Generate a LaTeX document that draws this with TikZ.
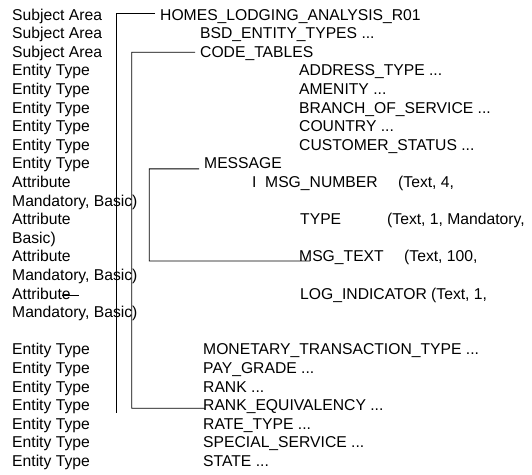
\documentclass[tikz,border=0pt]{standalone}
\usepackage{fontspec}
\setmainfont{Liberation Sans}
\begin{document}
\begin{tikzpicture}[x=1bp,y=-1bp,
  txt/.style={anchor=base west, inner sep=0pt, font=\fontsize{15.75}{18}\selectfont},
  conn/.style={line width=0.8bp, black}]
\useasboundingbox (0,0) rectangle (532,475);
% left column
\node[txt] (k0) at (12,20.1) {Subject Area};
\node[txt] (k1) at (12,38.7) {Subject Area};
\node[txt] (k2) at (12,57.3) {Subject Area};
\node[txt] (k3) at (12,75.9) {Entity Type};
\node[txt] (k4) at (12,94.5) {Entity Type};
\node[txt] (k5) at (12,113.1) {Entity Type};
\node[txt] (k6) at (12,131.7) {Entity Type};
\node[txt] (k7) at (12,150.3) {Entity Type};
\node[txt] (k8) at (12,168.9) {Entity Type};
\node[txt] (k9) at (12,187.5) {Attribute};
\node[txt] (k10) at (12,206.1) {Mandatory, Basic)};
\node[txt] (k11) at (12,224.7) {Attribute};
\node[txt] (k12) at (12,243.3) {Basic)};
\node[txt] (k13) at (12,261.9) {Attribute};
\node[txt] (k14) at (12,280.5) {Mandatory, Basic)};
\node[txt] (k15) at (12,299.1) {Attribute};
\node[txt] (k16) at (12,317.7) {Mandatory, Basic)};
\node[txt] (k18) at (12,354.9) {Entity Type};
\node[txt] (k19) at (12,373.5) {Entity Type};
\node[txt] (k20) at (12,392.1) {Entity Type};
\node[txt] (k21) at (12,410.7) {Entity Type};
\node[txt] (k22) at (12,429.3) {Entity Type};
\node[txt] (k23) at (12,447.9) {Entity Type};
\node[txt] (k24) at (12,466.5) {Entity Type};
% tree column
\node[txt] (homes) at (160,20.1) {HOMES\_LODGING\_ANALYSIS\_R01};
\node[txt] (bsd) at (200,38.7) {BSD\_ENTITY\_TYPES ...};
\node[txt] (code) at (200,57.3) {CODE\_TABLES};
\node[txt] (addr) at (299,75.9) {ADDRESS\_TYPE ...};
\node[txt] (amen) at (299,94.5) {AMENITY ...};
\node[txt] (branch) at (299,113.1) {BRANCH\_OF\_SERVICE ...};
\node[txt] (country) at (299,131.7) {COUNTRY ...};
\node[txt] (cust) at (299,150.3) {CUSTOMER\_STATUS ...};
\node[txt] (message) at (204,168.9) {MESSAGE};
\node[txt] (ibar) at (252,187.5) {I};
\node[txt] (msgnum) at (265,187.5) {MSG\_NUMBER};
\node[txt] (msgnumd) at (398,187.5) {(Text, 4,};
\node[txt] (type) at (300,224.7) {TYPE};
\node[txt] (typed) at (387,224.7) {(Text, 1, Mandatory,};
\node[txt] (msgtext) at (299,261.9) {MSG\_TEXT};
\node[txt] (msgtextd) at (404,261.9) {(Text, 100,};
\node[txt] (logind) at (300,299.1) {LOG\_INDICATOR};
\node[txt] (logindd) at (431,299.1) {(Text, 1,};
\node[txt] (monet) at (203,354.9) {MONETARY\_TRANSACTION\_TYPE ...};
\node[txt] (pay) at (203,373.5) {PAY\_GRADE ...};
\node[txt] (rank) at (203,392.1) {RANK ...};
\node[txt] (rankeq) at (203,410.7) {RANK\_EQUIVALENCY ...};
\node[txt] (rate) at (203,429.3) {RATE\_TYPE ...};
\node[txt] (special) at (203,447.9) {SPECIAL\_SERVICE ...};
\node[txt] (state) at (203,466.5) {STATE ...};
% connectors
\coordinate (l1end) at (116.7,413);
\coordinate (l2bot) at (131.7,408.3);
\coordinate (l3bot) at (149.3,261);
\draw[conn] (homes.base west) ++(-5,-6.8) -| (l1end);
\draw[conn] (code.base west) ++(-5,-5) -| (l2bot) -- ([xshift=2bp,yshift=2.4bp]rankeq.base west);
\draw[conn] (message.base west) ++(-5,0) -| (l3bot) -- ([xshift=11bp,yshift=0.9bp]msgtext.base west);
\draw[conn] ([xshift=50bp,yshift=4bp]k15.base west) -- ++(17,0);
\end{tikzpicture}
\end{document}
